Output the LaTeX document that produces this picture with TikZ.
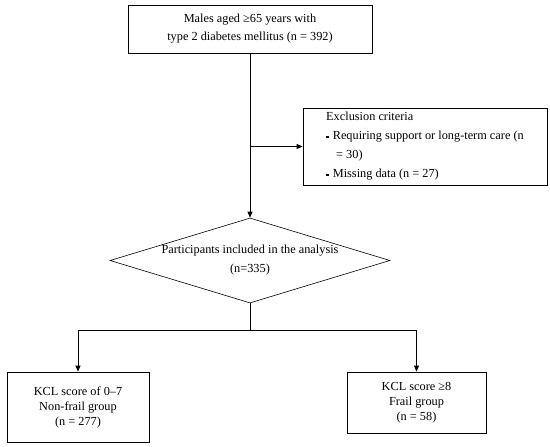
\documentclass[tikz,border=0pt]{standalone}
\usepackage{fontspec}
\setmainfont{Liberation Serif}
\usetikzlibrary{arrows.meta,positioning,shapes.geometric}

\newcommand{\sqbullet}{\rule[0.28ex]{2.6pt}{2.6pt}\hspace{4pt}}

\begin{document}
\begin{tikzpicture}[x=1pt,y=-1pt,
  box/.style={draw,line width=0.8pt,align=center,inner sep=0pt,font=\fontsize{12.3}{15}\selectfont},
  choice/.style={draw,diamond,line width=0.6pt,inner sep=0pt,shape aspect=3.3,
    minimum width=280pt,minimum height=85pt,align=center,font=\fontsize{12.3}{19}\selectfont},
  link/.style={line width=0.8pt,-{Triangle[length=6pt,width=5pt]}}]
  \useasboundingbox (0,0) rectangle (550,447);
  % Screening
  \node[box,minimum width=244pt,minimum height=48pt,font=\fontsize{12.3}{18}\selectfont] (males) at (250,29)
    {Males aged ≥65 years with\\type 2 diabetes mellitus (n = 392)};
  % Exclusion
  \node[box,minimum width=244pt,minimum height=77pt,align=left,
    font=\fontsize{12.3}{19}\selectfont] (excl) at (425,146.5)
    {Exclusion criteria\\
     \sqbullet Requiring support or long-term care (n\\
     \hspace*{10pt}= 30)\\
     \sqbullet Missing data (n = 27)};
  % Analysis
  \node[choice] (incl) at (250,260.5)
    {Participants included in the analysis\\(n=335)};
  % Groups
  \node[box,minimum width=142pt,minimum height=70pt] (nonfrail) at (78,407)
    {KCL score of 0–7\\Non-frail group\\(n = 277)};
  \node[box,minimum width=139pt,minimum height=61pt] (frail) at (416.5,402.5)
    {KCL score ≥8\\Frail group\\(n = 58)};
  % Connectors
  \coordinate (split) at (250,146.5);
  \coordinate (fork) at (250,330);
  \draw[link] (males.south) -- (incl.north);
  \draw[link] (split) -- (excl.west);
  \draw[line width=0.8pt] (incl.south) -- (fork);
  \draw[link] (fork) -| (nonfrail.north);
  \draw[link] (fork) -| (frail.north);
\end{tikzpicture}
\end{document}
